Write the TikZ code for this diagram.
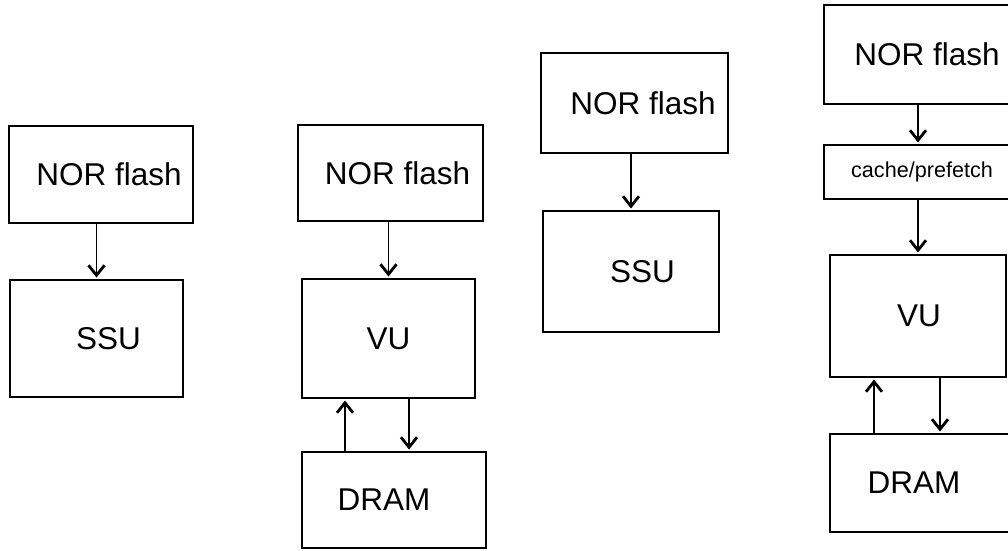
\documentclass[tikz,border=0pt]{standalone}
\usepackage{fontspec}
\setmainfont{Liberation Sans}
\usetikzlibrary{arrows.meta}

\begin{document}
\begin{tikzpicture}[x=1pt, y=-1pt,
    blk/.style={draw, line width=2pt, inner sep=0pt},
    fleche/.style={-{Straight Barb[length=10pt, width=16pt, line width=2.8pt]}, line width=1.7pt, shorten >=1.5pt},
    every label/.style={font=\fontsize{31.5}{36}\selectfont, inner sep=0pt}]
    \useasboundingbox (0,0) rectangle (1008,550);
    \clip (0,0) rectangle (1008,550);

    % Premier schema : NOR flash -> SSU
    \node[blk, minimum width=184pt, minimum height=97pt, label={[xshift=8pt]center:NOR flash}] (nor1) at (101,174.5) {};
    \node[blk, minimum width=173pt, minimum height=117pt, label={[xshift=12pt]center:SSU}] (ssu1) at (96.5,338.5) {};
    \draw[fleche] (ssu1.north |- nor1.south) -- (ssu1.north);

    % Deuxieme schema : NOR flash -> VU <-> DRAM
    \node[blk, minimum width=185pt, minimum height=96pt, label={[xshift=7pt]center:NOR flash}] (nor2) at (390.5,173) {};
    \node[blk, minimum width=173pt, minimum height=119pt, label={center:VU}] (vu2) at (388.5,338.5) {};
    \node[blk, minimum width=184pt, minimum height=96pt, label={[xshift=-10pt]center:DRAM}] (dram2) at (394,500) {};
    \draw[fleche] (vu2.north |- nor2.south) -- (vu2.north);
    \coordinate (haut2) at ([xshift=-43.5pt]vu2.south);
    \coordinate (bas2) at ([xshift=20.5pt]vu2.south);
    \draw[fleche] (haut2 |- dram2.north) -- (haut2);
    \draw[fleche] (bas2) -- (bas2 |- dram2.north);

    % Troisieme schema : NOR flash -> SSU
    \node[blk, minimum width=187pt, minimum height=100pt, label={[xshift=8.5pt]center:NOR flash}] (nor3) at (634.5,103) {};
    \node[blk, minimum width=176pt, minimum height=121pt, label={[xshift=11.5pt]center:SSU}] (ssu3) at (631,271.5) {};
    \draw[fleche] (ssu3.north |- nor3.south) -- (ssu3.north);

    % Quatrieme schema : avec cache/prefetch
    \node[blk, minimum width=188pt, minimum height=99pt, label={[xshift=9pt]center:NOR flash}] (nor4) at (918,54.5) {};
    \node[blk, minimum width=188pt, minimum height=54pt, label={[xshift=4pt, font=\fontsize{21.6}{26}\selectfont]center:cache/prefetch}] (cache4) at (918,172) {};
    \node[blk, minimum width=176pt, minimum height=122pt, label={[xshift=1pt]center:VU}] (vu4) at (918,316) {};
    \node[blk, minimum width=182pt, minimum height=98pt, label={[xshift=-7pt]center:DRAM}] (dram4) at (921,483) {};
    \draw[fleche] (nor4.south) -- (cache4.north);
    \draw[fleche] (cache4.south) -- (vu4.north);
    \coordinate (haut4) at ([xshift=-44pt]vu4.south);
    \coordinate (bas4) at ([xshift=22pt]vu4.south);
    \draw[fleche] (haut4 |- dram4.north) -- (haut4);
    \draw[fleche] (bas4) -- (bas4 |- dram4.north);
\end{tikzpicture}
\end{document}
